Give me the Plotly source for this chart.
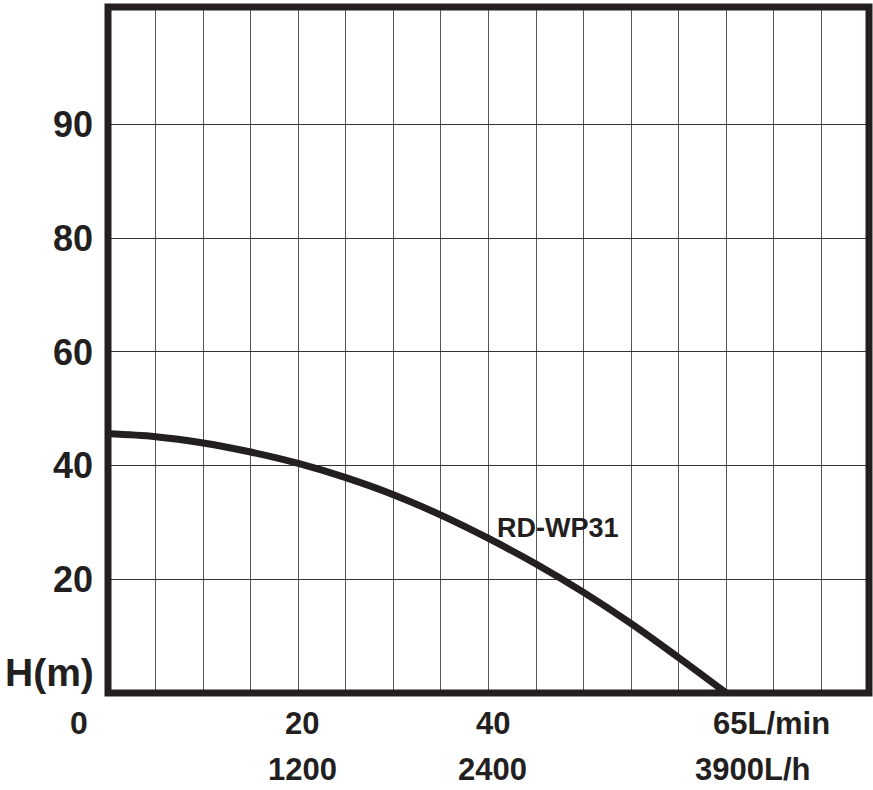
import plotly.graph_objects as go

# Data
flow_lmin = [0, 5, 10, 15, 20, 25, 30, 35, 40, 45, 50, 55, 60, 65]
head_m = [45.6, 45.1, 44.0, 42.4, 40.4, 37.9, 34.9, 31.3, 27.2, 22.7, 17.7, 12.2, 6.2, 0.0]
series_name = "RD-WP31"

y_tickvals = [20, 40, 60, 80, 100]
y_ticktext = ["20", "40", "60", "80", "90"]

x_tick_lmin = [20, 40, 65]
x_tick_lmin_text = ["20", "40", "65L/min"]
x_tick_lh_text = ["1200", "2400", "3900L/h"]

INK = "#231f20"
FONT = "Liberation Sans"

fig = go.Figure()
fig.add_trace(go.Scatter(
    x=flow_lmin, y=head_m, mode="lines",
    line=dict(color=INK, width=7, shape="spline", smoothing=1.0),
    name=series_name, showlegend=False, cliponaxis=False,
))

fig.update_layout(
    width=873, height=790,
    margin=dict(l=108, r=4, t=7, b=97),
    paper_bgcolor="white", plot_bgcolor="white",
    xaxis=dict(range=[0, 80], dtick=5, showgrid=True, gridcolor="#555555", gridwidth=1.2,
               showticklabels=False, zeroline=False, showline=False, ticks=""),
    yaxis=dict(range=[0, 120.7], tickvals=y_tickvals, ticktext=y_ticktext,
               showgrid=True, gridcolor="#333333", gridwidth=1.2, zeroline=False,
               showline=False, ticks="", ticklabelstandoff=14,
               tickfont=dict(family=FONT, size=36, color=INK, weight="bold")),
    shapes=[dict(type="rect", xref="paper", yref="paper", x0=0, x1=1, y0=0, y1=1,
                 line=dict(color=INK, width=7), layer="above")],
)

bold = lambda s: dict(family=FONT, size=s, color=INK, weight="bold")
ann = []
ann.append(dict(x=47.3, y=29.0, xref="x", yref="y", text=series_name, showarrow=False,
                xanchor="center", yanchor="middle", font=bold(27)))
ann.append(dict(x=0, y=0, xref="x", yref="y", text="0", showarrow=False,
                xanchor="center", yanchor="middle", xshift=-29, yshift=-30, font=bold(32)))
ann.append(dict(x=0, y=0, xref="paper", yref="y", text="H(m)", showarrow=False,
                xanchor="center", yanchor="middle", xshift=-59, yshift=21, font=bold(39)))
for xv, t1, t2 in zip(x_tick_lmin, x_tick_lmin_text, x_tick_lh_text):
    if t1.endswith("L/min"):
        ann.append(dict(x=xv, y=0, xref="x", yref="paper", text=t1, showarrow=False,
                        xanchor="left", yanchor="middle", xshift=-15, yshift=-30, font=bold(31)))
        ann.append(dict(x=xv, y=0, xref="x", yref="paper", text=t2, showarrow=False,
                        xanchor="left", yanchor="middle", xshift=-33, yshift=-76, font=bold(31)))
    else:
        ann.append(dict(x=xv, y=0, xref="x", yref="paper", text=t1, showarrow=False,
                        xanchor="center", yanchor="middle", xshift=4, yshift=-30, font=bold(31)))
        ann.append(dict(x=xv, y=0, xref="x", yref="paper", text=t2, showarrow=False,
                        xanchor="center", yanchor="middle", xshift=4, yshift=-76, font=bold(31)))
fig.update_layout(annotations=ann)

fig.write_html("out.html", config={"displayModeBar": False},
               post_script="document.body.style.margin='0';")
